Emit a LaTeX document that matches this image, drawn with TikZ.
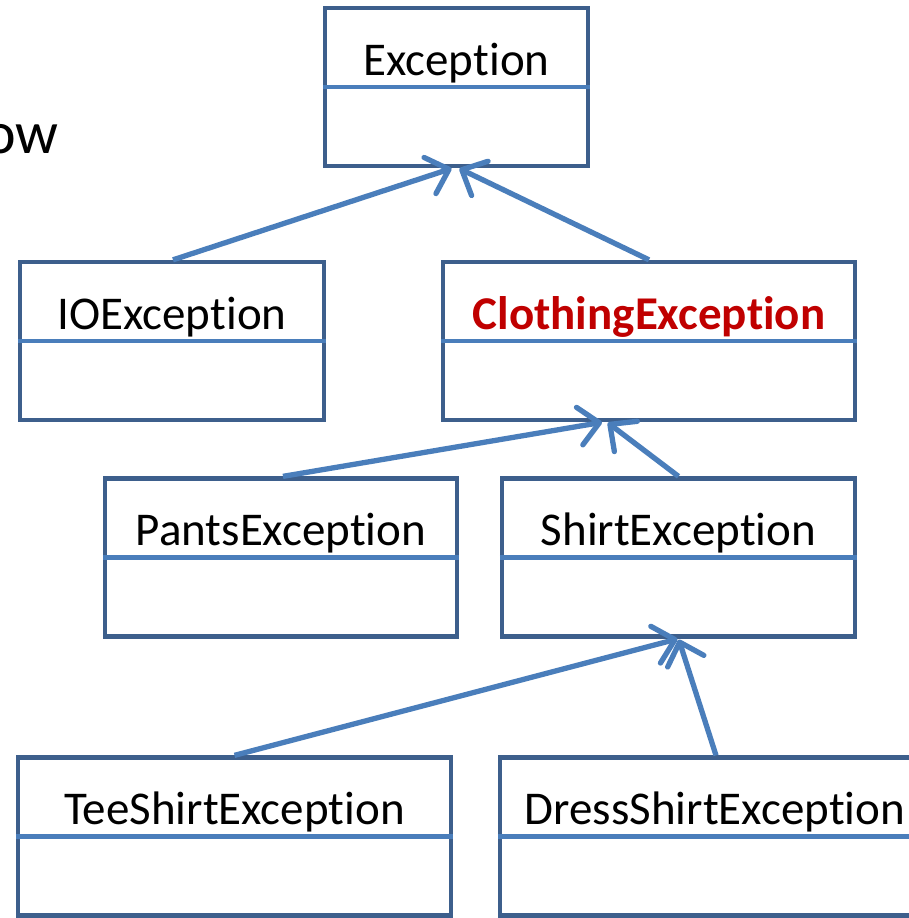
\documentclass[tikz,border=0pt]{standalone}
\usepackage{fontspec}
\setmainfont{Carlito}
\usetikzlibrary{arrows.meta}
\definecolor{boxline}{RGB}{61,95,140}
\definecolor{divline}{RGB}{74,126,187}
\definecolor{redtxt}{RGB}{192,0,0}
\newcommand{\excword}{Excep\mbox{t}ion}
\begin{document}
\begin{tikzpicture}[x=1pt,y=1pt,
  umlbox/.style={draw=boxline, line width=4.3pt, rectangle, inner sep=0pt, minimum height=158pt},
  divider/.style={draw=divline, line width=4.3pt},
  lbl/.style={inner sep=0pt, anchor=base, font=\fontsize{47}{56}\selectfont},
  inherit/.style={draw=divline, line width=5.3pt, -{Straight Barb[length=20pt, width=38pt, line width=5.3pt, round]}, shorten >=1pt}
]
\clip (0,0) rectangle (909,-918);
% boxes
\node[umlbox, minimum width=263pt] (exc) at (456.5,-87) {};
\node[umlbox, minimum width=304pt] (io) at (172,-341) {};
\node[umlbox, minimum width=412pt] (clo) at (649,-341) {};
\node[umlbox, minimum width=352pt] (pan) at (281,-557.5) {};
\node[umlbox, minimum width=353pt] (shi) at (678.5,-557.5) {};
\node[umlbox, minimum width=433pt] (tee) at (234.5,-836.5) {};
\node[umlbox, minimum width=430pt] (dre) at (715,-836.5) {};
% dividers
\foreach \b in {exc,io,clo,pan,shi,tee,dre}
  \draw[divider] (\b.west) -- (\b.east);
% labels
\node[lbl] (excT) at ([yshift=12pt]exc.center) {\excword};
\node[lbl] (ioT) at ([yshift=12pt]io.center) {IO\excword};
\node[lbl, text=redtxt, font=\fontsize{47}{56}\selectfont\bfseries] (cloT) at ([yshift=12pt]clo.center) {Clothing\excword};
\node[lbl] (panT) at ([yshift=12pt]pan.center) {Pants\excword};
\node[lbl] (shiT) at ([yshift=12pt]shi.center) {Shirt\excword};
\node[lbl] (teeT) at ([yshift=12pt]tee.center) {TeeShirt\excword};
\node[lbl] (dreT) at ([yshift=12pt]dre.center) {DressShirt\excword};
% cut-off text at left
\node[inner sep=0pt, anchor=base east, font=\fontsize{60}{70}\selectfont] (ow) at (59,-153) {ow};
% inheritance arrows
\draw[inherit] ([xshift=1pt]io.north) -- ([xshift=-4pt]exc.south);
\draw[inherit] (clo.north) -- ([xshift=2pt]exc.south);
\draw[inherit] ([xshift=2pt]pan.north) -- ([xshift=-46pt]clo.south);
\draw[inherit] (shi.north) -- ([xshift=-42pt]clo.south);
\draw[inherit] (tee.north) -- ([xshift=0pt]shi.south);
\draw[inherit] ([xshift=1pt]dre.north) -- ([xshift=0pt]shi.south);
\end{tikzpicture}
\end{document}
